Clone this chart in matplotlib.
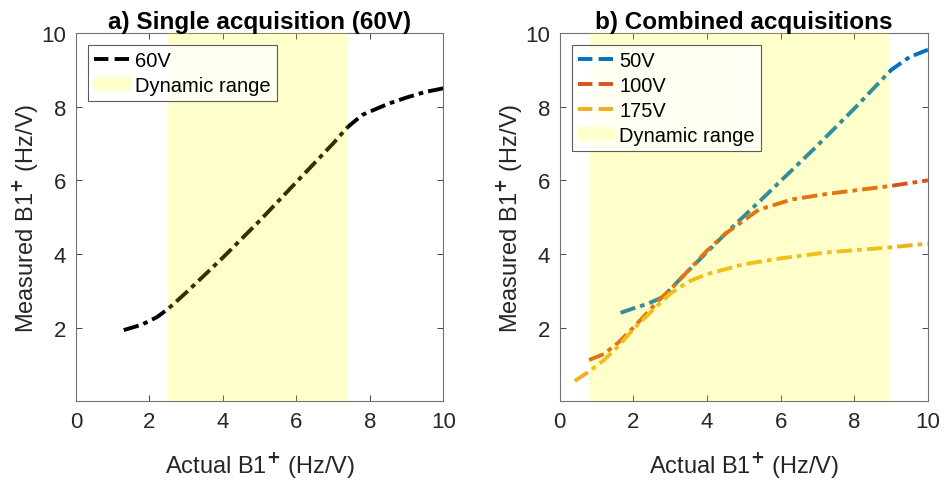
import numpy as np
import matplotlib.pyplot as plt
from matplotlib.lines import Line2D
from matplotlib.patches import Patch

plt.rcParams['font.family'] = ['Liberation Sans', 'DejaVu Sans']
plt.rcParams['mathtext.fontset'] = 'custom'
plt.rcParams['mathtext.rm'] = 'Liberation Sans'

# panel a: single acquisition at 60V
x60 = [1.3, 1.8, 2.2, 2.5, 3.0, 4.0, 5.0, 6.0, 7.0, 7.4, 7.8, 8.5, 9.0, 9.5, 10.0]
y60 = [1.93, 2.08, 2.28, 2.5, 2.95, 3.9, 4.9, 5.95, 7.0, 7.45, 7.78, 8.08, 8.25, 8.4, 8.5]
range_a = (2.5, 7.4)

# panel b: combined acquisitions
x50 = [1.65, 2.0, 2.4, 2.8, 3.3, 3.8, 4.5, 5.5, 6.9, 8.0, 9.0, 9.5, 10.0]
y50 = [2.4, 2.52, 2.65, 2.83, 3.35, 3.85, 4.55, 5.5, 6.85, 7.95, 9.0, 9.35, 9.55]
x100 = [0.8, 1.2, 1.6, 2.0, 2.7, 3.1, 4.0, 4.5, 5.4, 6.3, 7.25, 9.0, 10.0]
y100 = [1.12, 1.28, 1.6, 2.0, 2.75, 3.13, 4.09, 4.55, 5.2, 5.48, 5.63, 5.85, 6.0]
x175 = [0.41, 0.82, 1.18, 1.6, 2.0, 2.7, 3.0, 3.5, 4.0, 5.0, 6.0, 7.25, 9.0, 10.0]
y175 = [0.55, 0.82, 1.1, 1.5, 1.96, 2.64, 2.92, 3.25, 3.45, 3.72, 3.88, 4.04, 4.18, 4.28]
range_b = (0.82, 8.94)

blue = (0, 0.447, 0.741)
orange = (0.85, 0.325, 0.098)
yellow = (0.929, 0.694, 0.125)
dashdot = (0, (4, 1.3, 1.2, 1.3))
lw = 2.8

fig = plt.figure(figsize=(9.44, 4.81), dpi=100)
ax1 = fig.add_axes([0.0805, 0.164, 0.389, 0.765])
ax2 = fig.add_axes([0.593, 0.164, 0.39, 0.765])


def style(ax, title):
    ax.set_xlim(0, 10)
    ax.set_ylim(0, 10)
    ax.set_xticks([0, 2, 4, 6, 8, 10])
    ax.set_yticks([2, 4, 6, 8, 10])
    ax.tick_params(direction='in', top=True, right=True, labelsize=16,
                   colors='0.15', length=4, width=0.6, pad=7)
    for s in ax.spines.values():
        s.set_color('0.45')
        s.set_linewidth(0.8)
    ax.set_xlabel(r'Actual B1$^{\mathbf{+}}$ (Hz/V)', fontsize=17, color='0.15', labelpad=12)
    ax.set_ylabel(r'Measured B1$^{\mathbf{+}}$ (Hz/V)', fontsize=17, color='0.15', labelpad=1)
    ax.set_title(title, fontsize=17.5, fontweight='bold', pad=4)


span_kw = dict(color=(1, 1, 0), alpha=0.2, lw=0, zorder=3)
span_patch = Patch(facecolor=(1, 1, 0.8), edgecolor='none', label='Dynamic range')
leg_kw = dict(loc='upper left', fontsize=14.5, fancybox=False, edgecolor='0.2',
              handlelength=1.9, handletextpad=0.15, borderpad=0.3,
              labelspacing=0.3, borderaxespad=0.6)

ax1.plot(x60, y60, color='k', lw=lw, ls=dashdot, zorder=2)
ax1.axvspan(*range_a, **span_kw)
style(ax1, 'a) Single acquisition (60V)')
h1 = [Line2D([], [], color='k', lw=lw, ls='--', label='60V'), span_patch]
leg = ax1.legend(handles=h1, **leg_kw)
leg.get_frame().set_linewidth(0.8)

ax2.plot(x50, y50, color=blue, lw=lw, ls=dashdot, zorder=2)
ax2.plot(x100, y100, color=orange, lw=lw, ls=dashdot, zorder=2)
ax2.plot(x175, y175, color=yellow, lw=lw, ls=dashdot, zorder=2)
ax2.axvspan(*range_b, **span_kw)
style(ax2, 'b) Combined acquisitions')
h2 = [Line2D([], [], color=blue, lw=lw, ls='--', label='50V'),
      Line2D([], [], color=orange, lw=lw, ls='--', label='100V'),
      Line2D([], [], color=yellow, lw=lw, ls='--', label='175V'),
      span_patch]
leg = ax2.legend(handles=h2, **leg_kw)
leg.get_frame().set_linewidth(0.8)

fig.savefig('out.png', dpi=100)
